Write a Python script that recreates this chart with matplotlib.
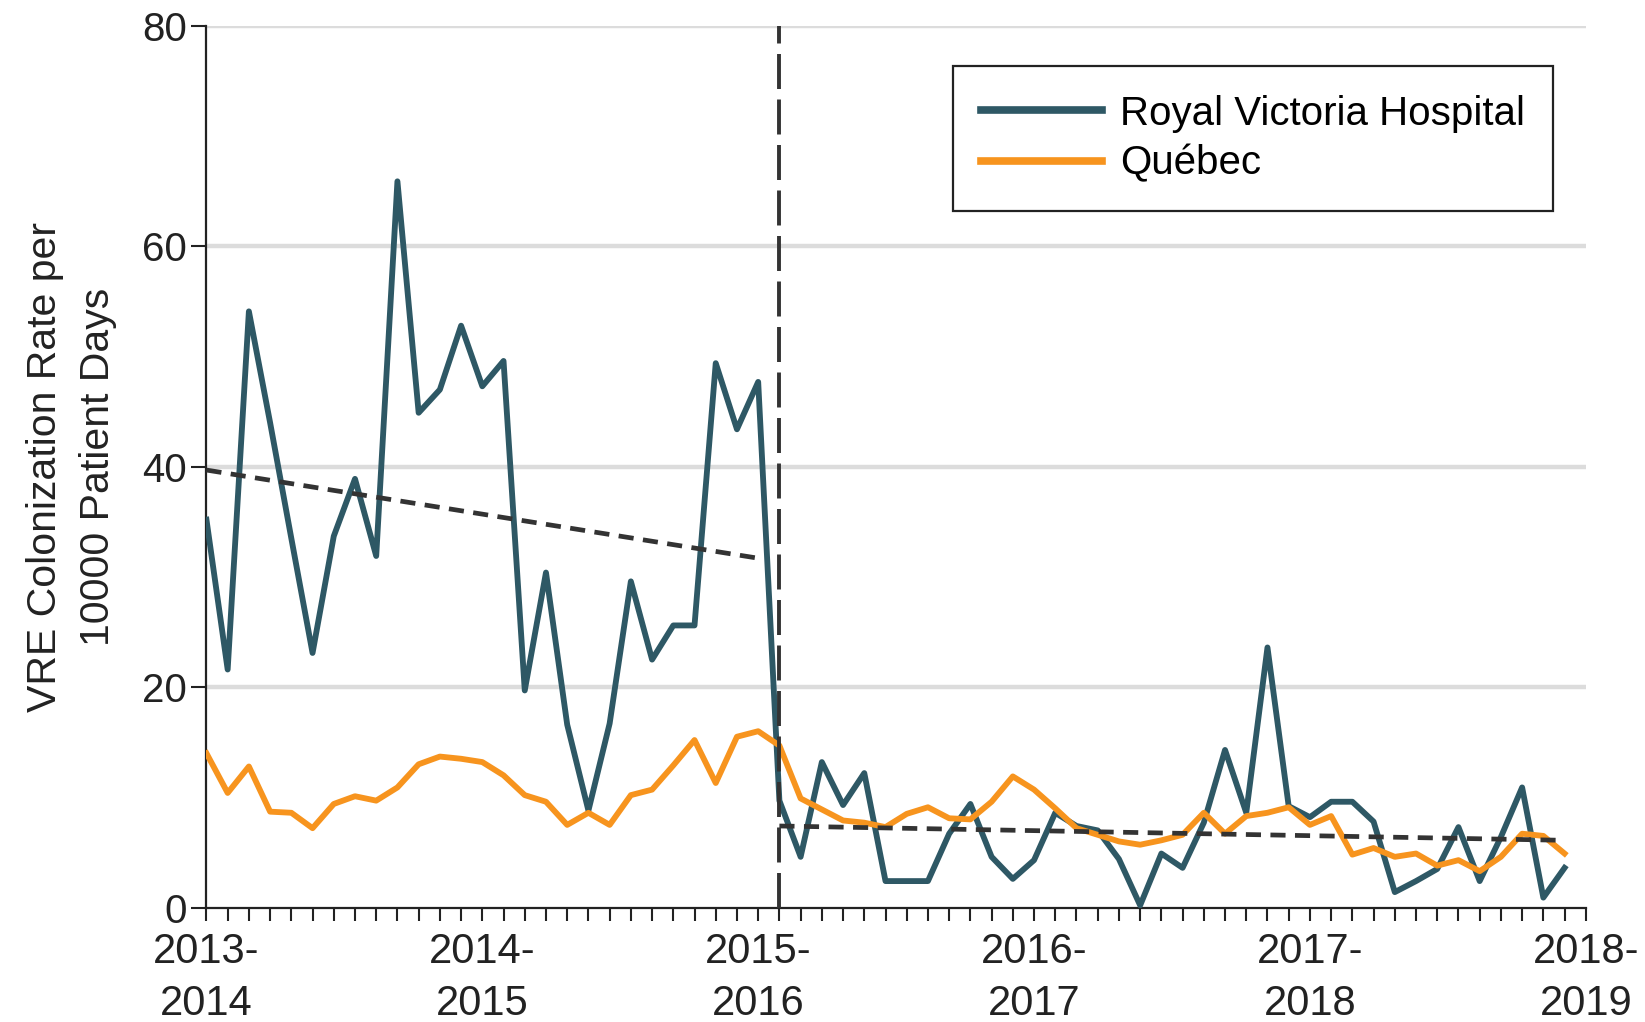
import matplotlib
matplotlib.use('Agg')
import matplotlib.pyplot as plt
import numpy as np

plt.rcParams['font.family'] = ['Liberation Sans', 'DejaVu Sans']

# 13 reporting periods per fiscal year, 2013-2014 .. 2018-2019
periods = np.arange(65)
year_labels = ['2013-\n2014', '2014-\n2015', '2015-\n2016',
               '2016-\n2017', '2017-\n2018', '2018-\n2019']

rvh = [35.2, 21.6, 54.1, 44.0, 33.5, 23.1, 33.7, 38.9, 31.9, 65.9,
       44.9, 47.0, 52.8, 47.3, 49.6, 19.7, 30.4, 16.6, 8.8, 16.7,
       29.6, 22.5, 25.6, 25.6, 49.4, 43.4, 47.7, 9.7, 4.6, 13.2,
       9.3, 12.2, 2.4, 2.4, 2.4, 6.7, 9.4, 4.6, 2.6, 4.3,
       8.6, 7.4, 7.0, 4.4, 0.2, 4.9, 3.6, 7.7, 14.3, 8.6,
       23.6, 9.2, 8.2, 9.6, 9.6, 7.8, 1.4, 2.4, 3.5, 7.3,
       2.4, 6.4, 10.9, 0.9, 3.6]

quebec = [14.0, 10.4, 12.8, 8.7, 8.6, 7.2, 9.4, 10.1, 9.7, 10.9,
          13.0, 13.7, 13.5, 13.2, 12.0, 10.2, 9.6, 7.5, 8.6, 7.5,
          10.2, 10.7, 12.9, 15.2, 11.3, 15.5, 16.0, 14.7, 9.9, 8.9,
          7.9, 7.7, 7.3, 8.5, 9.1, 8.1, 8.0, 9.6, 11.9, 10.7,
          9.0, 7.2, 6.6, 6.0, 5.7, 6.1, 6.6, 8.6, 6.7, 8.3,
          8.6, 9.1, 7.5, 8.3, 4.8, 5.4, 4.6, 4.9, 3.8, 4.3,
          3.3, 4.6, 6.7, 6.5, 4.9]

# segmented regression trend lines (start, end)
pre_x = [0, 26]
pre_y = [39.7, 31.7]
post_x = [27, 64]
post_y = [7.4, 6.1]
intervention = 27

blue = '#2e5865'
orange = '#f7941e'
dark = '#333333'

fig = plt.figure(figsize=(16.45, 10.22), dpi=100)
ax = fig.add_axes([0.1255, 0.112, 0.8385, 0.8626])

for yv in [20, 40, 60, 80]:
    ax.axhline(yv, color='#dcdcdc', lw=3.2, zorder=0)

ax.plot(periods, rvh, color=blue, lw=4.2, label='Royal Victoria Hospital', zorder=3)
ax.plot(periods, quebec, color=orange, lw=4.2, label='Québec', zorder=4)
ax.plot(pre_x, pre_y, color=dark, lw=3.4, linestyle=(0, (3.2, 2.0)), zorder=5)
ax.plot(post_x, post_y, color=dark, lw=3.4, linestyle=(0, (3.2, 2.0)), zorder=5)
ax.plot([intervention, intervention], [0, 80], color=dark, lw=2.8,
        linestyle=(0, (9, 2.7)), zorder=5)

ax.set_xlim(0, 65)
ax.set_ylim(0, 80)
ax.set_yticks([0, 20, 40, 60, 80])
ax.set_xticks(np.arange(0, 66, 13))
ax.set_xticklabels(year_labels, linespacing=1.4)
ax.set_xticks(np.arange(0, 66, 1), minor=True)

for s in ['top', 'right']:
    ax.spines[s].set_visible(False)
for s in ['left', 'bottom']:
    ax.spines[s].set_linewidth(1.6)
    ax.spines[s].set_color('#222222')

ax.tick_params(axis='y', length=11, width=1.5, labelsize=29, pad=3, colors='#222222')
ax.tick_params(axis='x', which='both', length=9.5, width=1.5, colors='#222222')
ax.tick_params(axis='x', which='major', labelsize=30, pad=8)

ax.set_ylabel('VRE Colonization Rate per\n10000 Patient Days', fontsize=29.5,
              linespacing=1.5, labelpad=18, color='#222222')

leg = ax.legend(loc='upper right', bbox_to_anchor=(0.991, 0.977), fontsize=29,
                handlelength=3.0, handletextpad=0.45, borderpad=0.7,
                labelspacing=0.3, fancybox=False, framealpha=1)
leg.get_frame().set_edgecolor('#222222')
leg.get_frame().set_linewidth(1.6)
for line in leg.get_lines():
    line.set_linewidth(5.5)

fig.savefig('out.png', dpi=100)
